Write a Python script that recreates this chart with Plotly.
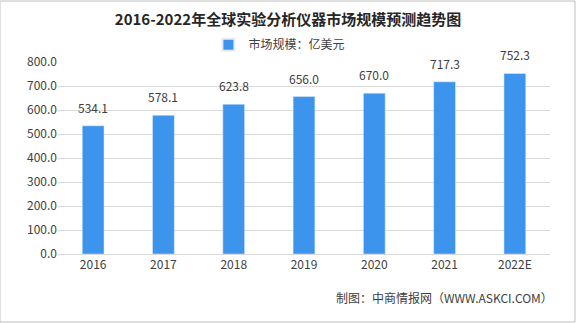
import plotly.graph_objects as go

years = ["2016", "2017", "2018", "2019", "2020", "2021", "2022E"]
market_size = [534.1, 578.1, 623.8, 656.0, 670.0, 717.3, 752.3]
y_ticks = [0, 100, 200, 300, 400, 500, 600, 700, 800]

font_cn = "Noto Sans CJK SC, SimSun, sans-serif"
bar_color = "#3D94EC"

fig = go.Figure()
fig.add_trace(go.Bar(
    x=years,
    y=market_size,
    name="市场规模：亿美元",
    marker_color=bar_color,
    cliponaxis=False,
))

# value labels above each bar (category position by index)
value_labels = [
    dict(x=i, y=v, xref="x", yref="y", text=f"{v:.1f}", showarrow=False,
         yanchor="bottom", yshift=8, font=dict(size=12, color="#404040"))
    for i, v in enumerate(market_size)
]

fig.update_layout(
    width=576,
    height=323,
    margin=dict(l=58, r=26, t=62, b=69),
    paper_bgcolor="white",
    plot_bgcolor="white",
    bargap=0.69,
    font=dict(family=font_cn, size=12, color="#404040"),
    title=dict(
        text="<b>2016-2022年全球实验分析仪器市场规模预测趋势图</b>",
        x=0.5, xanchor="center", y=0.94, yanchor="middle",
        font=dict(size=15, color="#262626", family=font_cn),
    ),
    showlegend=True,
    legend=dict(
        orientation="h", x=0.45, xanchor="center", y=1.09, yanchor="middle",
        font=dict(size=12, color="#404040"),
        itemsizing="constant", itemwidth=30,
    ),
    xaxis=dict(
        type="category", categoryorder="array", categoryarray=years,
        range=[-0.5, len(years) - 0.5],
        showgrid=False, showline=True, linecolor="#D9D9D9", linewidth=1,
        ticks="", tickfont=dict(size=12, color="#404040"),
    ),
    yaxis=dict(
        range=[0, 800], tickvals=y_ticks,
        ticktext=[f"{v:.1f}" for v in y_ticks],
        showgrid=True, gridcolor="#D9D9D9", gridwidth=1,
        zeroline=False, showline=False, ticks="",
        tickfont=dict(size=12, color="#404040"),
    ),
    shapes=[dict(
        type="rect", xref="paper", yref="paper",
        x0=-58/492, x1=1+25/492, y0=-68/192, y1=1+61/192,
        line=dict(color="#BFBFBF", width=1),
    )],
    annotations=value_labels + [dict(
        text="制图：中商情报网（WWW.ASKCI.COM）",
        xref="paper", yref="paper", x=1.01, xanchor="right",
        y=-43/192, yanchor="middle", showarrow=False,
        font=dict(size=12, color="#404040"),
    )],
)

fig.write_html("out.html")
